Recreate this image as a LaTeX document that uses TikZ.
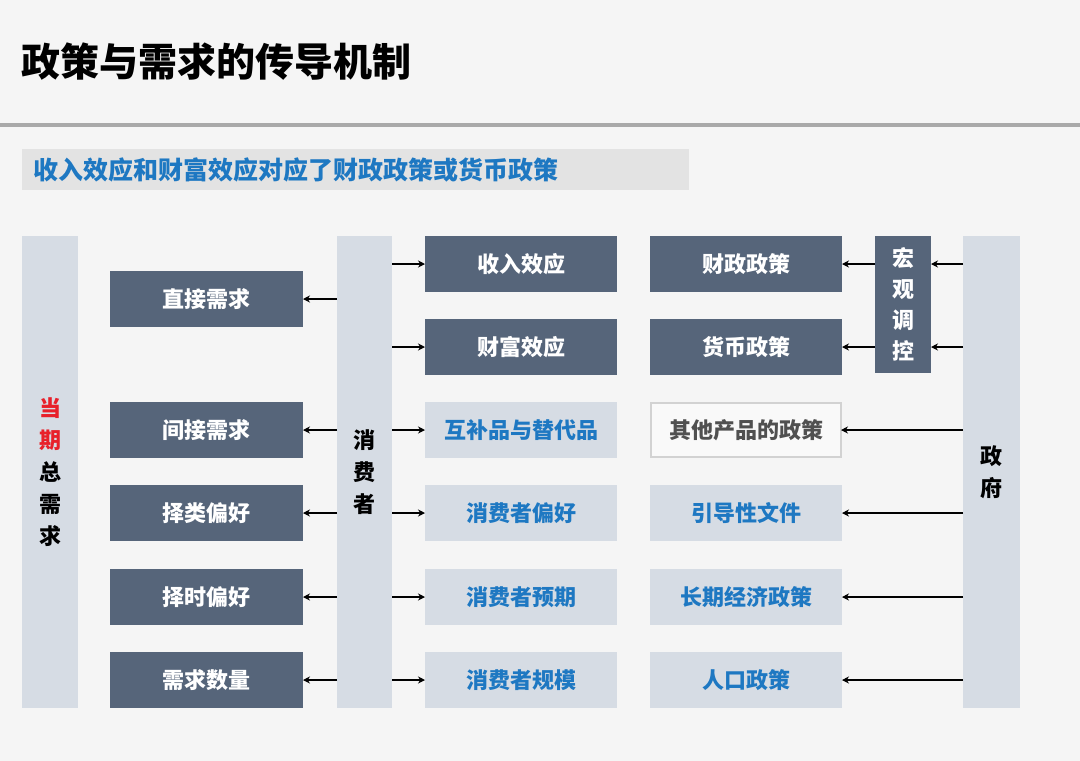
\documentclass[tikz,border=0pt]{standalone}
\usepackage{fontspec}
\setmainfont{Noto Sans CJK SC}
\usetikzlibrary{arrows.meta}
\definecolor{bg}{HTML}{F5F5F5}
\definecolor{rule}{HTML}{A9A9A9}
\definecolor{subfill}{HTML}{E3E3E3}
\definecolor{blueT}{HTML}{1E78C2}
\definecolor{darkbox}{HTML}{56657A}
\definecolor{lightbar}{HTML}{D6DCE4}
\definecolor{otherfill}{HTML}{F9F9F9}
\definecolor{otherline}{HTML}{D2D2D2}
\definecolor{otherT}{HTML}{505050}
\definecolor{redT}{HTML}{E8202A}
\tikzset{
  box/.style={rectangle, outer sep=0pt, inner sep=0pt, minimum width=193pt, minimum height=56pt,
    font=\fontsize{22}{26}\selectfont\bfseries},
  darkb/.style={box, fill=darkbox, text=white},
  lightb/.style={box, fill=lightbar, text=blueT},
  otherb/.style={box, fill=otherfill, draw=otherline, line width=1.5pt, text=otherT},
  vbar/.style={rectangle, outer sep=0pt, inner sep=0pt, fill=lightbar, minimum width=56pt,
    align=center, font=\fontsize{22}{32}\selectfont\bfseries, text=black},
  arr/.style={line width=1.1pt, -{Stealth[length=7pt,width=7pt]}},
}
\begin{document}
\begin{tikzpicture}[x=1pt,y=-1pt]
\useasboundingbox (0,0) rectangle (1080,761);
\fill[bg] (0,0) rectangle (1080,761);
% title
\node[anchor=west, inner sep=0pt, font=\fontsize{39}{44}\selectfont\bfseries] (title) at (21,62) {政策与需求的传导机制};
\fill[rule] (0,122.5) rectangle (1080,126.5);
% subtitle
\node[anchor=north west, fill=subfill, minimum width=667pt, minimum height=41pt, inner sep=0pt] (subbox) at (22,149) {};
\node[anchor=west, inner sep=0pt, text=blueT, font=\fontsize{25}{28}\selectfont\bfseries] (subtitle) at ([xshift=11pt]subbox.west) {收入效应和财富效应对应了财政政策或货币政策};
% vertical bars
\node[vbar, minimum height=472pt] (total) at (50,472) {{\color{redT}当}\\{\color{redT}期}\\总\\需\\求};
\node[vbar, minimum width=55pt, minimum height=472pt] (cons) at (364.5,472) {消\\费\\者};
\node[vbar, minimum width=57pt, minimum height=472pt] (gov) at (991.5,472) {政\\府};
\node[vbar, fill=darkbox, text=white, minimum height=137pt, font=\fontsize{22}{31}\selectfont\bfseries] (macro) at (903,304.5) {宏\\观\\调\\控};
% left column
\node[darkb] (zj) at (206.5,299) {直接需求};
\node[darkb] (jj) at (206.5,430) {间接需求};
\node[darkb] (zl) at (206.5,513) {择类偏好};
\node[darkb] (zs) at (206.5,597) {择时偏好};
\node[darkb] (sl) at (206.5,680) {需求数量};
% third column
\node[darkb, minimum width=192pt] (sr) at (521,264) {收入效应};
\node[darkb, minimum width=192pt] (cf) at (521,347) {财富效应};
\node[lightb, minimum width=192pt] (hb) at (521,430) {互补品与替代品};
\node[lightb, minimum width=192pt] (ph) at (521,513) {消费者偏好};
\node[lightb, minimum width=192pt] (yq) at (521,597) {消费者预期};
\node[lightb, minimum width=192pt] (gm) at (521,680) {消费者规模};
% fourth column
\node[darkb, minimum width=192pt] (cz) at (746,264) {财政政策};
\node[darkb, minimum width=192pt] (hbz) at (746,347) {货币政策};
\node[otherb, minimum width=190pt, minimum height=54pt] (qt) at (746,430) {其他产品的政策};
\node[lightb, minimum width=192pt] (yd) at (746,513) {引导性文件};
\node[lightb, minimum width=192pt] (cq) at (746,597) {长期经济政策};
\node[lightb, minimum width=192pt] (rk) at (746,680) {人口政策};
% arrows consumer -> left
\foreach \n in {zj,jj,zl,zs,sl}{\draw[arr] (cons.west |- \n) -- (\n.east);}
% arrows consumer -> right
\foreach \n in {sr,cf,hb,ph,yq,gm}{\draw[arr] (cons.east |- \n) -- (\n.west);}
% macro -> policies
\foreach \n in {cz,hbz}{\draw[arr] (macro.west |- \n) -- (\n.east);}
% gov -> macro
\foreach \n in {cz,hbz}{\draw[arr] (gov.west |- \n) -- (macro.east |- \n);}
% gov -> other policies
\foreach \n in {qt,yd,cq,rk}{\draw[arr] (gov.west |- \n) -- (\n.east);}
\end{tikzpicture}
\end{document}
